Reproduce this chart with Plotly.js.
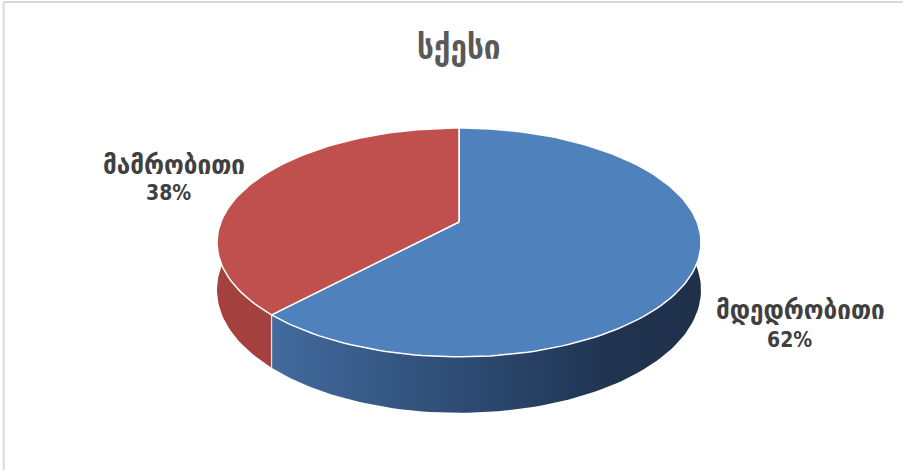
<!DOCTYPE html>
<html>
<head>
<meta charset="utf-8">
<script src="https://cdn.plot.ly/plotly-3.0.1.min.js"></script>
<style>
html,body{margin:0;padding:0;background:#fff;}
#chart{width:903px;height:470px;}
</style>
</head>
<body>
<div id="chart"></div>
<script>
// ---- data ----
var chartTitle = 'სქესი';
var categories = ['მდედრობითი', 'მამრობითი'];
var values = [62, 38];
var topColors = ['#4F81BD', '#C0504D'];
var wallScales = [
  [[0, '#436B9F'], [0.45, '#2D4B72'], [0.8, '#203350'], [1, '#1F3049']],
  [[0, '#A54240'], [1, '#9F3F3C']]
];

// ---- 3D pie projection (layout constants) ----
var CX = 459, CY = 222;       // projected pie centre
var D = 5.59, A = 619, B = 1331, T = 257; // perspective depth, vertical/horizontal scale, thickness

function proj(tDeg, depth) {
  var t = tDeg * Math.PI / 180;
  var X = Math.cos(t), Z = Math.sin(t);
  var k = 1 / (D + Z);
  return [CX + B * X * k, CY - A * Z * k + depth * T * k];
}

function arc(a0, a1, depth) {
  var n = Math.max(8, Math.ceil(Math.abs(a1 - a0) / 1.5));
  var pts = [];
  for (var i = 0; i <= n; i++) pts.push(proj(a0 + (a1 - a0) * i / n, depth));
  return pts;
}

var total = values.reduce(function (s, v) { return s + v; }, 0);
var traces = [];
var tops = [];
var annotations = [];
var start = 90;
values.forEach(function (v, i) {
  var sweep = v / total * 360;
  var a0 = start, a1 = start - sweep; // clockwise from 12 o'clock
  // side wall
  var topArc = arc(a0, a1, 0);
  var botArc = arc(a1, a0, 1);
  var wall = topArc.concat(botArc);
  var wx = wall.map(function (p) { return p[0]; });
  var wy = wall.map(function (p) { return p[1]; });
  traces.push({
    type: 'scatter', mode: 'lines', x: wx, y: wy, fill: 'toself',
    line: {width: 0, color: 'rgba(0,0,0,0)'},
    fillcolor: wallScales[i][0][1],
    fillgradient: {type: 'horizontal', colorscale: wallScales[i],
      start: Math.min.apply(null, wx), stop: Math.max.apply(null, wx)},
    hoverinfo: 'skip', showlegend: false
  });
  // top face
  var face = [[CX, CY]].concat(arc(a0, a1, 0)).concat([[CX, CY]]);
  tops.push({
    type: 'scatter', mode: 'lines',
    x: face.map(function (p) { return p[0]; }),
    y: face.map(function (p) { return p[1]; }),
    fill: 'toself', fillcolor: topColors[i],
    line: {color: '#FFFFFF', width: 1.5},
    hoverinfo: 'skip', showlegend: false
  });
  start = a1;
});
// seams between walls (white edges at slice boundaries)
var acc = 90;
values.forEach(function (v) {
  acc -= v / total * 360;
  var p0 = proj(acc, 0), p1 = proj(acc, 1);
  if (Math.sin(acc * Math.PI / 180) < 0) {
    traces.push({type: 'scatter', mode: 'lines', x: [p0[0], p1[0]], y: [p0[1], p1[1]],
      line: {color: '#E8E8E8', width: 1.2}, hoverinfo: 'skip', showlegend: false});
  }
});
traces = traces.concat(tops);

// labels (name line and percent line)
var namePos = [[800, 309], [174, 164]];
var pctPos = [[789, 340], [168, 193]];
var labelFont = 'DejaVu Sans Condensed, DejaVu Sans';
values.forEach(function (v, i) {
  annotations.push({
    x: namePos[i][0], y: namePos[i][1], xref: 'x', yref: 'y',
    text: '<b>' + categories[i] + '</b>', showarrow: false,
    font: {family: labelFont, size: 27, color: '#404040'}
  });
  annotations.push({
    x: pctPos[i][0], y: pctPos[i][1], xref: 'x', yref: 'y',
    text: '<b>' + Math.round(v / total * 100) + '%</b>', showarrow: false,
    font: {family: labelFont, size: 21, color: '#404040'}
  });
});

var layout = {
  width: 903, height: 470,
  margin: {l: 0, r: 0, t: 0, b: 0},
  paper_bgcolor: '#FFFFFF', plot_bgcolor: '#FFFFFF',
  title: {text: '<b>' + chartTitle + '</b>', x: 0.508, xanchor: 'center', y: 0.9, yanchor: 'middle',
    font: {family: labelFont, size: 33, color: '#595959'}},
  xaxis: {range: [0, 903], visible: false, fixedrange: true},
  yaxis: {range: [470, 0], visible: false, fixedrange: true},
  annotations: annotations,
  shapes: [
    {type: 'line', xref: 'paper', yref: 'paper', x0: 0.004, x1: 1, y0: 0.996, y1: 0.996,
      line: {color: '#D9D9D9', width: 2}},
    {type: 'line', xref: 'paper', yref: 'paper', x0: 0.004, x1: 0.004, y0: 0, y1: 0.996,
      line: {color: '#D9D9D9', width: 2}}
  ],
  showlegend: false
};

Plotly.newPlot('chart', traces, layout, {staticPlot: true, displayModeBar: false});
</script>
</body>
</html>
